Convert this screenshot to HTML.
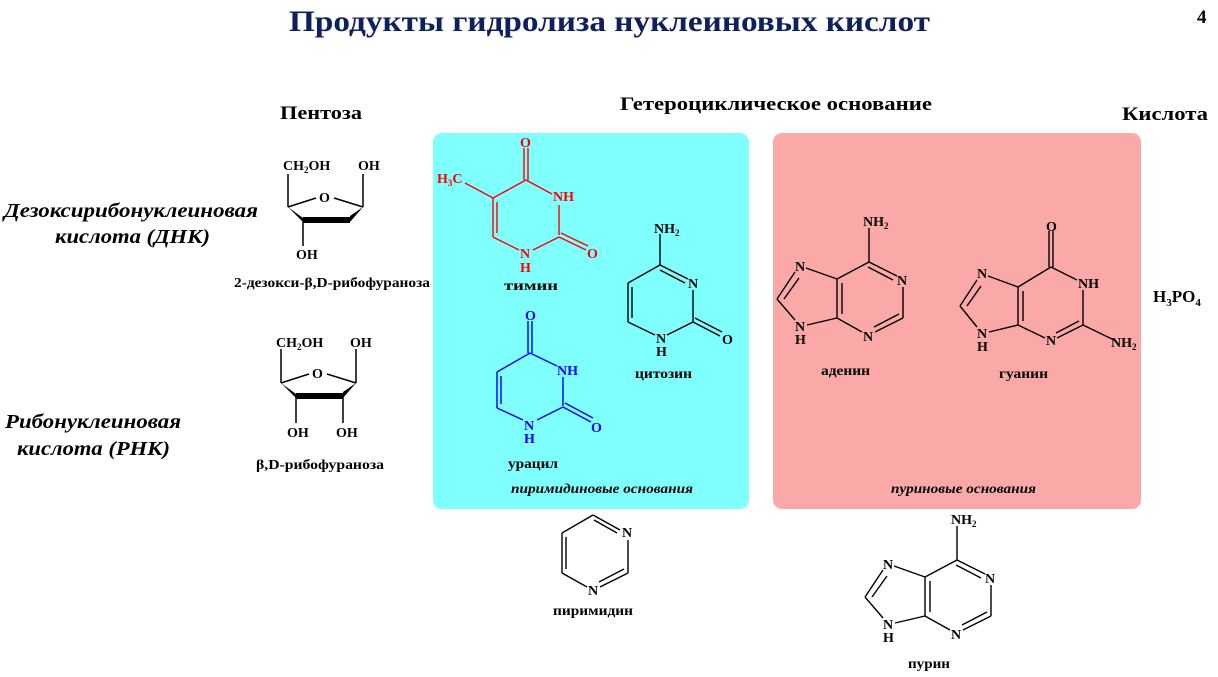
<!DOCTYPE html>
<html><head><meta charset="utf-8"><style>
body{margin:0;background:#fff}
svg{display:block}
text{font-family:"Liberation Serif","DejaVu Serif",serif;font-weight:bold}
.s{font-size:14px}
.l{font-size:14px}
</style></head><body>
<svg width="1218" height="677" viewBox="0 0 1218 677" xmlns="http://www.w3.org/2000/svg">
<rect x="433" y="133" width="316" height="376" rx="9" fill="#80FFFF"/>
<rect x="773" y="133" width="368" height="376" rx="9" fill="#FAA8A8"/>

<text x="289" y="31" font-size="30" fill="#0f2060" textLength="641" lengthAdjust="spacingAndGlyphs">Продукты гидролиза нуклеиновых кислот</text>
<text x="1197" y="23" font-size="19">4</text>
<text x="280" y="119" font-size="19" textLength="82" lengthAdjust="spacingAndGlyphs">Пентоза</text>
<text x="620" y="110" font-size="19" textLength="312" lengthAdjust="spacingAndGlyphs">Гетероциклическое основание</text>
<text x="1122" y="120" font-size="19" textLength="86" lengthAdjust="spacingAndGlyphs">Кислота</text>

<g font-style="italic" font-size="20">
<text x="4" y="217" textLength="254" lengthAdjust="spacingAndGlyphs">Дезоксирибонуклеиновая</text>
<text x="55" y="243" textLength="155" lengthAdjust="spacingAndGlyphs">кислота (ДНК)</text>
<text x="5" y="428" textLength="176" lengthAdjust="spacingAndGlyphs">Рибонуклеиновая</text>
<text x="17" y="455" textLength="153" lengthAdjust="spacingAndGlyphs">кислота (РНК)</text>
</g>

<!-- deoxyribose -->
<g stroke="#000" stroke-width="1.5" fill="none">
<line x1="288" y1="174" x2="288" y2="207"/>
<line x1="363" y1="174" x2="363" y2="207"/>
<line x1="288" y1="207" x2="316" y2="198"/>
<line x1="334" y1="198" x2="363" y2="207"/>
<line x1="303" y1="220" x2="303" y2="246"/>
</g>
<polygon points="288,207 303,218 303,222" fill="#000"/>
<polygon points="303,217 350,217 350,223 303,223" fill="#000"/>
<polygon points="363,207 350,216 350,222" fill="#000"/>
<text x="283" y="170" class="s">CH<tspan font-size="9" dy="3">2</tspan><tspan dy="-3">OH</tspan></text>
<text x="358" y="170" class="s">OH</text>
<text x="319" y="202" class="s">O</text>
<text x="296" y="259" class="s">OH</text>
<text x="234" y="287" class="l" textLength="196" lengthAdjust="spacingAndGlyphs">2-дезокси-β,D-рибофураноза</text>

<!-- ribose -->
<g stroke="#000" stroke-width="1.5" fill="none">
<line x1="281" y1="349" x2="281" y2="383"/>
<line x1="356" y1="349" x2="356" y2="383"/>
<line x1="281" y1="383" x2="309" y2="374"/>
<line x1="327" y1="374" x2="356" y2="383"/>
<line x1="296" y1="396" x2="296" y2="423"/>
<line x1="343" y1="396" x2="343" y2="423"/>
</g>
<polygon points="281,383 296,394 296,398" fill="#000"/>
<polygon points="296,393 343,393 343,399 296,399" fill="#000"/>
<polygon points="356,383 343,392 343,398" fill="#000"/>
<text x="276" y="347" class="s">CH<tspan font-size="9" dy="3">2</tspan><tspan dy="-3">OH</tspan></text>
<text x="350" y="347" class="s">OH</text>
<text x="312" y="378" class="s">O</text>
<text x="287" y="437" class="s">OH</text>
<text x="336" y="437" class="s">OH</text>
<text x="256" y="469" class="l" textLength="128" lengthAdjust="spacingAndGlyphs">β,D-рибофураноза</text>

<!-- thymine red -->
<g stroke="#ff0000" stroke-width="1.4" fill="none">
<line x1="524" y1="148" x2="524" y2="180"/><line x1="528" y1="148" x2="528" y2="180"/>
<line x1="526" y1="180" x2="552" y2="194"/>
<line x1="559" y1="205" x2="559" y2="235"/>
<line x1="559" y1="237" x2="533" y2="250"/>
<line x1="559" y1="237" x2="586" y2="250"/><line x1="561" y1="233" x2="588" y2="246"/>
<line x1="519" y1="250" x2="493" y2="237"/>
<line x1="493" y1="237" x2="493" y2="198"/><line x1="497" y1="233" x2="497" y2="202"/>
<line x1="493" y1="198" x2="526" y2="180"/>
<line x1="465" y1="183" x2="493" y2="198"/>
</g>
<g fill="#ff0000">
<text x="520" y="147" class="s">O</text>
<text x="553" y="201" class="s">NH</text>
<text x="587" y="258" class="s">O</text>
<text x="520" y="258" class="s">N</text>
<text x="520" y="272" class="s">H</text>
<text x="437" y="183" class="s">H<tspan font-size="9" dy="3">3</tspan><tspan dy="-3">C</tspan></text>
</g>
<text x="504" y="290" class="l" textLength="54" lengthAdjust="spacingAndGlyphs">тимин</text>

<!-- cytosine -->
<g stroke="#000" stroke-width="1.4" fill="none">
<line x1="660" y1="234" x2="660" y2="265"/>
<line x1="660" y1="265" x2="688" y2="279"/><line x1="660" y1="270" x2="685" y2="283"/>
<line x1="693" y1="290" x2="693" y2="322"/>
<line x1="693" y1="322" x2="667" y2="335"/>
<line x1="693" y1="322" x2="720" y2="336"/><line x1="695" y1="318" x2="722" y2="332"/>
<line x1="655" y1="335" x2="628" y2="322"/>
<line x1="628" y1="322" x2="628" y2="283"/><line x1="632" y1="318" x2="632" y2="287"/>
<line x1="628" y1="283" x2="660" y2="265"/>
</g>
<text x="654" y="233" class="s">NH<tspan font-size="9" dy="3">2</tspan></text>
<text x="688" y="288" class="s">N</text>
<text x="722" y="344" class="s">O</text>
<text x="656" y="343" class="s">N</text>
<text x="656" y="356" class="s">H</text>
<text x="635" y="378" class="l" textLength="57" lengthAdjust="spacingAndGlyphs">цитозин</text>

<!-- uracil blue -->
<g stroke="#0000ff" stroke-width="1.4" fill="none">
<line x1="528" y1="321" x2="528" y2="353"/><line x1="532" y1="321" x2="532" y2="353"/>
<line x1="530" y1="353" x2="557" y2="366"/>
<line x1="563" y1="377" x2="563" y2="406"/>
<line x1="563" y1="407" x2="537" y2="420"/>
<line x1="563" y1="407" x2="591" y2="422"/><line x1="565" y1="403" x2="593" y2="418"/>
<line x1="523" y1="420" x2="497" y2="408"/>
<line x1="497" y1="408" x2="497" y2="372"/><line x1="501" y1="404" x2="501" y2="376"/>
<line x1="497" y1="372" x2="530" y2="353"/>
</g>
<g fill="#0000ff">
<text x="525" y="320" class="s">O</text>
<text x="557" y="375" class="s">NH</text>
<text x="591" y="432" class="s">O</text>
<text x="524" y="430" class="s">N</text>
<text x="524" y="443" class="s">H</text>
</g>
<text x="508" y="468" class="l" textLength="50" lengthAdjust="spacingAndGlyphs">урацил</text>
<text x="511" y="493" font-size="14" font-style="italic" font-weight="normal" textLength="182" lengthAdjust="spacingAndGlyphs">пиримидиновые основания</text>

<!-- adenine -->
<g id="ad" stroke="#000" stroke-width="1.4" fill="none">
<line x1="869" y1="228" x2="869" y2="262"/>
<line x1="869" y1="262" x2="897" y2="276"/><line x1="868" y1="267" x2="893" y2="280"/>
<line x1="903" y1="287" x2="903" y2="318"/>
<line x1="903" y1="318" x2="875" y2="332"/><line x1="899" y1="314" x2="874" y2="327"/>
<line x1="862" y1="332" x2="837" y2="318"/>
<line x1="837" y1="318" x2="837" y2="279"/><line x1="842" y1="314" x2="842" y2="283"/>
<line x1="837" y1="279" x2="869" y2="262"/>
<line x1="837" y1="279" x2="806" y2="268"/>
<line x1="837" y1="318" x2="807" y2="325"/>
<line x1="795" y1="272" x2="777" y2="299"/><line x1="799" y1="278" x2="784" y2="299"/>
<line x1="777" y1="299" x2="795" y2="320"/>
</g>
<text x="863" y="226" class="s">NH<tspan font-size="9" dy="3">2</tspan></text>
<text x="795" y="271" class="s">N</text>
<text x="897" y="285" class="s">N</text>
<text x="863" y="341" class="s">N</text>
<text x="795" y="331" class="s">N</text>
<text x="795" y="344" class="s">H</text>
<text x="821" y="375" class="l" textLength="49" lengthAdjust="spacingAndGlyphs">аденин</text>

<!-- guanine -->
<g stroke="#000" stroke-width="1.4" fill="none">
<line x1="1049" y1="231" x2="1049" y2="267"/><line x1="1053" y1="231" x2="1053" y2="267"/>
<line x1="1051" y1="267" x2="1077" y2="280"/>
<line x1="1083" y1="290" x2="1083" y2="325"/>
<line x1="1083" y1="325" x2="1114" y2="340"/>
<line x1="1083" y1="325" x2="1057" y2="338"/><line x1="1079" y1="321" x2="1056" y2="333"/>
<line x1="1045" y1="338" x2="1018" y2="325"/>
<line x1="1018" y1="325" x2="1018" y2="287"/><line x1="1023" y1="321" x2="1023" y2="291"/>
<line x1="1018" y1="287" x2="1051" y2="267"/>
<line x1="1018" y1="287" x2="988" y2="276"/>
<line x1="1018" y1="325" x2="989" y2="332"/>
<line x1="977" y1="280" x2="960" y2="306"/><line x1="981" y1="286" x2="967" y2="306"/>
<line x1="960" y1="306" x2="977" y2="327"/>
</g>
<text x="1046" y="231" class="s">O</text>
<text x="1078" y="288" class="s">NH</text>
<text x="1046" y="345" class="s">N</text>
<text x="1111" y="347" class="s">NH<tspan font-size="9" dy="3">2</tspan></text>
<text x="977" y="278" class="s">N</text>
<text x="977" y="338" class="s">N</text>
<text x="977" y="351" class="s">H</text>
<text x="999" y="378" class="l" textLength="49" lengthAdjust="spacingAndGlyphs">гуанин</text>
<text x="891" y="493" font-size="14" font-style="italic" font-weight="normal" textLength="145" lengthAdjust="spacingAndGlyphs">пуриновые основания</text>

<text x="1153" y="302" font-size="17">H<tspan font-size="11" dy="4">3</tspan><tspan dy="-4">PO</tspan><tspan font-size="11" dy="4">4</tspan></text>

<!-- pyrimidine -->
<g stroke="#000" stroke-width="1.4" fill="none">
<line x1="562" y1="533" x2="593" y2="515"/>
<line x1="593" y1="515" x2="620" y2="530"/><line x1="594" y1="520" x2="617" y2="533"/>
<line x1="628" y1="540" x2="628" y2="573"/>
<line x1="628" y1="573" x2="600" y2="587"/><line x1="624" y1="569" x2="599" y2="582"/>
<line x1="587" y1="587" x2="562" y2="573"/>
<line x1="562" y1="573" x2="562" y2="533"/><line x1="566" y1="569" x2="566" y2="537"/>
</g>
<text x="622" y="537" class="s" font-weight="normal">N</text>
<text x="588" y="595" class="s" font-weight="normal">N</text>
<text x="553" y="615" class="l" textLength="80" lengthAdjust="spacingAndGlyphs">пиримидин</text>

<!-- purine -->
<g transform="translate(88,298)">
<use href="#ad"/>
<text x="863" y="226" class="s">NH<tspan font-size="9" dy="3">2</tspan></text>
<text x="795" y="271" class="s" font-weight="normal">N</text>
<text x="897" y="285" class="s" font-weight="normal">N</text>
<text x="863" y="341" class="s" font-weight="normal">N</text>
<text x="795" y="331" class="s" font-weight="normal">N</text>
<text x="795" y="344" class="s">H</text>
</g>
<text x="908" y="668" class="l" textLength="42" lengthAdjust="spacingAndGlyphs">пурин</text>
</svg>
</body></html>
